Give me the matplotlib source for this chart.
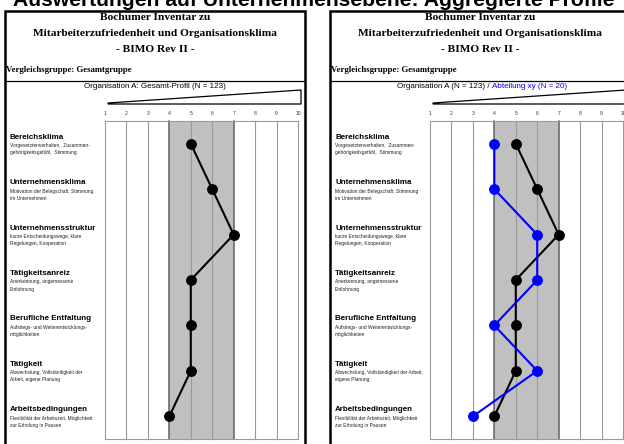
import matplotlib
matplotlib.use("Agg")
import matplotlib.pyplot as plt
from matplotlib.patches import Rectangle, Polygon
from matplotlib.lines import Line2D
import matplotlib.transforms as mtransforms

W, H = 624, 444

# ---------------- data ----------------
main_title = "Auswertungen auf Unternehmensebene: Aggregierte Profile"
header_lines = ["Bochumer Inventar zu",
                "Mitarbeiterzufriedenheit und Organisationsklima",
                "- BIMO Rev II -"]
comparison = "Vergleichsgruppe: Gesamtgruppe"
title_left = "Organisation A: Gesamt-Profil (N = 123)"
title_right_a = "Organisation A (N = 123) / "
title_right_b = "Abteilung xy (N = 20)"
scale_ticks = [1, 2, 3, 4, 5, 6, 7, 8, 9, 10]
scales = ["Bereichsklima", "Unternehmensklima", "Unternehmensstruktur",
          "Tätigkeitsanreiz", "Berufliche Entfaltung", "Tätigkeit",
          "Arbeitsbedingungen"]
desc_left = [("Vorgesetztenverhalten,  Zusammen-", "gehörigkeitsgefühl,  Stimmung"),
             ("Motivation der Belegschaft, Stimmung", "im Unternehmen"),
             ("kurze Entscheidungswege, klare", "Regelungen, Kooperation"),
             ("Anerkennung, angemessene", "Entlohnung"),
             ("Aufstiegs- und Weiterentwicklungs-", "möglichkeiten"),
             ("Abwechslung, Vollständigkeit der", "Arbeit, eigene Planung"),
             ("Flexibilität der Arbeitszeit, Möglichkeit", "zur Erholung in Pausen")]
desc_right = [("Vorgesetztenverhalten,  Zusammen-", "gehörigkeitsgefühl,  Stimmung"),
              ("Motivation der Belegschaft, Stimmung", "im Unternehmen"),
              ("kurze Entscheidungswege, klare", "Regelungen, Kooperation"),
              ("Anerkennung, angemessene", "Entlohnung"),
              ("Aufstiegs- und Weiterentwicklungs-", "möglichkeiten"),
              ("Abwechslung, Vollständigkeit der Arbeit,", "eigene Planung"),
              ("Flexibilität der Arbeitszeit, Möglichkeit", "zur Erholung in Pausen")]
org_values = [5, 6, 7, 5, 5, 5, 4]
dept_values = [4, 4, 6, 6, 4, 6, 3]
band = (4, 7)

SANS = "Liberation Sans"
SERIF = "Liberation Serif"

fig = plt.figure(figsize=(W / 100, H / 100), dpi=100)
fig.patch.set_facecolor("white")


def fx(x):
    return x / W


def fy(y):
    return 1 - y / H


# main title (clipped at the top)
t = fig.text(fx(13), fy(6), main_title, fontsize=20, fontweight="bold",
             family=SANS, ha="left", va="baseline")
r = fig.canvas.get_renderer()
w = t.get_window_extent(r).width
t.set_fontsize(20 * 602 / w)


def panel(ox, descs, series, title_parts):
    # outer frame
    fig.add_artist(Rectangle((fx(ox), fy(452)), 300 / W, 441 / H,
                             transform=fig.transFigure, fill=False,
                             edgecolor="black", lw=1.8))
    fig.add_artist(Line2D([fx(ox), fx(ox + 300)], [fy(81), fy(81)],
                          transform=fig.transFigure, color="black", lw=0.9))
    for txt, y in zip(header_lines, [17.5, 33, 49]):
        fig.text(fx(ox + 150), fy(y), txt, family=SERIF, fontweight="bold",
                 fontsize=8.2, ha="center", va="center")
    fig.text(fx(ox + 1), fy(70), comparison, family=SERIF, fontweight="bold",
             fontsize=6.3, ha="left", va="center")

    # panel title
    fs = 5.8
    if len(title_parts) == 1:
        fig.text(fx(ox + 150), fy(86), title_parts[0][0], family=SANS,
                 fontsize=fs, color=title_parts[0][1], ha="center", va="center")
    else:
        texts = [fig.text(0, fy(86), p, family=SANS, fontsize=fs, color=c,
                          ha="left", va="center") for p, c in title_parts]
        widths = [tt.get_window_extent(r).width for tt in texts]
        x0 = ox + 152 - sum(widths) / 2
        for tt, wd in zip(texts, widths):
            tt.set_x(fx(x0))
            x0 += wd

    # wedge
    fig.add_artist(Polygon([(fx(ox + 103), fy(103)), (fx(ox + 296), fy(90)),
                            (fx(ox + 296), fy(104)), (fx(ox + 103), fy(104))],
                           closed=True, transform=fig.transFigure,
                           facecolor="white", edgecolor="black", lw=0.9))

    # grid axes
    ax = fig.add_axes([fx(ox + 100), fy(439), 193 / W, 318 / H])
    ax.set_xlim(scale_ticks[0], scale_ticks[-1])
    ax.set_ylim(len(scales) - 0.5, -0.5)
    ax.axvspan(band[0], band[1], color="#c0c0c0", lw=0, zorder=0)
    for v in scale_ticks:
        dark = v in band
        ax.axvline(v, color="#606060" if dark else "#9a9a9a",
                   lw=1.1 if dark else 0.8, zorder=1, clip_on=False)
    for s in ["left", "right"]:
        ax.spines[s].set_visible(False)
    for s in ["top", "bottom"]:
        ax.spines[s].set_color("#9a9a9a")
        ax.spines[s].set_linewidth(0.8)
    ax.set_xticks(scale_ticks)
    ax.set_xticklabels([str(v) for v in scale_ticks], family=SANS)
    ax.xaxis.set_ticks_position("top")
    ax.tick_params(axis="x", length=0, pad=3.5, labelsize=3.6,
                   labeltop=True, labelbottom=False, colors="#333333")
    ax.set_yticks([])
    ax.patch.set_alpha(0)

    ypos = list(range(len(scales)))
    for vals, color in series:
        ax.plot(vals, ypos, color=color, lw=1.5, marker="o", ms=6.8,
                zorder=3, clip_on=False)

    base = mtransforms.blended_transform_factory(fig.transFigure, ax.transData)
    for i, (name, (d1, d2)) in enumerate(zip(scales, descs)):
        ax.text(fx(ox + 5), i, name, family=SANS, fontweight="bold",
                fontsize=5.8, ha="left", va="center",
                transform=mtransforms.offset_copy(base, fig=fig, y=6.5, units="dots"))
        ax.text(fx(ox + 5), i, d1, family=SANS, fontsize=3.5, ha="left",
                va="center", color="#222222",
                transform=mtransforms.offset_copy(base, fig=fig, y=-2, units="dots"))
        ax.text(fx(ox + 5), i, d2, family=SANS, fontsize=3.5, ha="left",
                va="center", color="#222222",
                transform=mtransforms.offset_copy(base, fig=fig, y=-9, units="dots"))
    return ax


panel(5, desc_left, [(org_values, "black")], [(title_left, "black")])
panel(330, desc_right, [(org_values, "black"), (dept_values, "#0000ff")],
      [(title_right_a, "black"), (title_right_b, "#0000ff")])

fig.savefig("out.png", dpi=100)
